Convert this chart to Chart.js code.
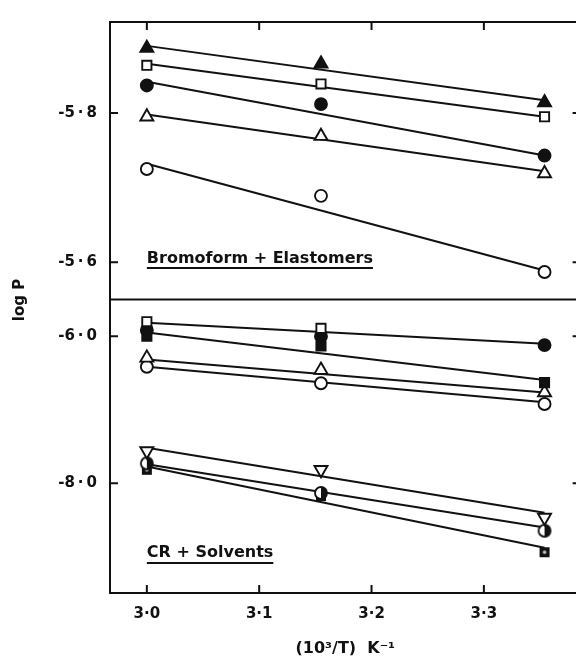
<!DOCTYPE html>
<html>
<head>
<meta charset="utf-8">
<script src="https://cdn.jsdelivr.net/npm/chart.js@4"></script>
<style>
  html, body { margin: 0; padding: 0; background: #fff; overflow: hidden; }
  canvas { display: block; }
</style>
</head>
<body>
<canvas id="permChart" width="590" height="663"></canvas>
<script>
// x positions of the three run temperatures, (10^3/T)
var tempX = [3.0, 3.155, 3.354]
var fitX = [3.0, 3.354]
var xTicks = [3.0, 3.1, 3.2, 3.3]
var topTicks = [-5.8, -5.6]
var bottomTicks = [-6.0, -8.0]

// Bromoform + Elastomers (upper panel)
var bromoFilledTri = [-5.887, -5.866, -5.814]
var bromoOpenSq = [-5.864, -5.839, -5.795]
var bromoFilledCirc = [-5.837, -5.812, -5.743]
var bromoOpenTri = [-5.795, -5.769, -5.719]
var bromoOpenCirc = [-5.725, -5.689, -5.587]
var bromoFits = [
    [-5.890, -5.817],
    [-5.866, -5.795],
    [-5.842, -5.743],
    [-5.798, -5.722],
    [-5.732, -5.589]
]

// CR + Solvents (lower panel)
var crOpenSq = [-5.803, -5.893, null]
var crFilledCirc = [-5.919, -6.0, -6.121]
var crFilledSq = [-6.0, -6.134, -6.631]
var crOpenTri = [-6.295, -6.461, -6.765]
var crOpenCirc = [-6.416, -6.640, -6.922]
var crInvTri = [-7.561, -7.816, -8.465]
var crHalfCirc = [-7.728, -8.131, -8.644]
var crDotSq = [-7.816, -8.174, -8.936]
var crFits = [
    [-5.816, -6.103],
    [-5.950, -6.595],
    [-6.318, -6.765],
    [-6.416, -6.899],
    [-7.517, -8.398],
    [-7.741, -8.600],
    [-7.772, -8.876]
]

var ink = '#111'
var fontFam = "'DejaVu Sans', sans-serif"

function dotLabel(v, sep){
    return v.toFixed(1).replace('.', sep)
}

// custom marker: circle with right half filled
function halfCircle(){
    var c = document.createElement('canvas')
    c.width = 16; c.height = 16
    var g = c.getContext('2d')
    g.fillStyle = '#fff'
    g.beginPath(); g.arc(8, 8, 6, 0, Math.PI * 2); g.fill()
    g.fillStyle = ink
    g.beginPath(); g.arc(8, 8, 6, -Math.PI / 2, Math.PI / 2); g.closePath(); g.fill()
    g.strokeStyle = ink; g.lineWidth = 1.8
    g.beginPath(); g.arc(8, 8, 6, 0, Math.PI * 2); g.stroke()
    return c
}

// custom marker: dark square with a light dot
function dotSquare(){
    var c = document.createElement('canvas')
    c.width = 12; c.height = 12
    var g = c.getContext('2d')
    g.fillStyle = ink
    g.fillRect(1, 1, 10, 10)
    g.fillStyle = '#ccc'
    g.beginPath(); g.arc(6, 6, 1.8, 0, Math.PI * 2); g.fill()
    return c
}

function markers(vals, axis, style, filled, radius, rotation){
    return {
        type: 'scatter',
        yAxisID: axis,
        data: tempX.map(function(x, i){ return {x: x, y: vals[i]} }).filter(function(p){ return p.y !== null }),
        pointStyle: style,
        pointRadius: radius,
        pointRotation: rotation || 0,
        pointBackgroundColor: filled ? ink : '#fff',
        pointBorderColor: ink,
        pointBorderWidth: 1.9,
        showLine: false,
        order: 0
    }
}

function fitLine(ends, axis){
    return {
        type: 'line',
        yAxisID: axis,
        data: fitX.map(function(x, i){ return {x: x, y: ends[i]} }),
        borderColor: ink,
        borderWidth: 2,
        pointRadius: 0,
        fill: false,
        order: 1
    }
}

var datasets = []
bromoFits.forEach(function(f){ datasets.push(fitLine(f, 'yTop')) })
crFits.forEach(function(f){ datasets.push(fitLine(f, 'yBot')) })
datasets.push(markers(bromoFilledTri, 'yTop', 'triangle', true, 7.5))
datasets.push(markers(bromoOpenSq, 'yTop', 'rect', false, 6.5))
datasets.push(markers(bromoFilledCirc, 'yTop', 'circle', true, 6))
datasets.push(markers(bromoOpenTri, 'yTop', 'triangle', false, 7.5))
datasets.push(markers(bromoOpenCirc, 'yTop', 'circle', false, 6))
datasets.push(markers(crOpenSq, 'yBot', 'rect', false, 6.5))
datasets.push(markers(crFilledSq, 'yBot', 'rect', true, 6.5))
datasets.push(markers(crFilledCirc, 'yBot', 'circle', true, 6))
datasets.push(markers(crOpenTri, 'yBot', 'triangle', false, 7.5))
datasets.push(markers(crOpenCirc, 'yBot', 'circle', false, 6))
datasets.push(markers(crInvTri, 'yBot', 'triangle', false, 7.5, 180))
datasets.push(markers(crHalfCirc, 'yBot', halfCircle(), false, 6))
datasets.push(markers(crDotSq, 'yBot', dotSquare(), true, 6))

// frame, inward ticks and panel captions
var framePlugin = {
    id: 'frame',
    afterDraw: function(chart){
        var ctx = chart.ctx
        var a = chart.chartArea
        var xs = chart.scales.x, yt = chart.scales.yTop, yb = chart.scales.yBot
        ctx.save()
        ctx.strokeStyle = ink
        ctx.lineWidth = 2
        ctx.strokeRect(a.left, a.top, a.right - a.left, a.bottom - a.top)
        ctx.beginPath()
        ctx.moveTo(a.left, yt.bottom); ctx.lineTo(a.right, yt.bottom)
        xTicks.forEach(function(v){
            var px = xs.getPixelForValue(v)
            ctx.moveTo(px, a.top); ctx.lineTo(px, a.top + 8)
            ctx.moveTo(px, a.bottom); ctx.lineTo(px, a.bottom - 8)
        })
        topTicks.forEach(function(v){
            var py = yt.getPixelForValue(v)
            ctx.moveTo(a.left, py); ctx.lineTo(a.left + 8, py)
            ctx.moveTo(a.right, py); ctx.lineTo(a.right - 8, py)
        })
        bottomTicks.forEach(function(v){
            var py = yb.getPixelForValue(v)
            ctx.moveTo(a.left, py); ctx.lineTo(a.left + 8, py)
            ctx.moveTo(a.right, py); ctx.lineTo(a.right - 8, py)
        })
        ctx.stroke()

        ctx.fillStyle = ink
        ctx.font = 'bold 16px ' + fontFam
        ctx.textBaseline = 'alphabetic'
        ctx.textAlign = 'left'
        var x0 = xs.getPixelForValue(3.0)
        var t1 = 'Bromoform + Elastomers'
        ctx.fillText(t1, x0, 263)
        var w1 = ctx.measureText(t1).width
        var t2 = 'CR + Solvents'
        ctx.fillText(t2, x0, 557)
        var w2 = ctx.measureText(t2).width
        ctx.lineWidth = 1.8
        ctx.beginPath()
        ctx.moveTo(x0, 268); ctx.lineTo(x0 + w1, 268)
        ctx.moveTo(x0, 563); ctx.lineTo(x0 + w2, 563)
        ctx.stroke()

        ctx.font = 'bold 15px ' + fontFam
        ctx.translate(20, 300)
        ctx.rotate(-Math.PI / 2)
        ctx.textAlign = 'center'
        ctx.textBaseline = 'middle'
        ctx.fillText('log P', 0, 0)
        ctx.restore()
    }
}

var tickFont = {family: fontFam, size: 15, weight: 'bold'}

var chart = new Chart(document.getElementById('permChart'), {
    data: {datasets: datasets},
    options: {
        responsive: false,
        animation: false,
        layout: {padding: {left: 0, right: 8, top: 15, bottom: 0}},
        plugins: {legend: {display: false}, tooltip: {enabled: false}},
        scales: {
            x: {
                type: 'linear',
                position: 'bottom',
                min: 2.9672,
                max: 3.3861,
                grid: {display: false, drawTicks: false},
                border: {display: false},
                afterBuildTicks: function(s){ s.ticks = xTicks.map(function(v){ return {value: v} }) },
                afterFit: function(s){ s.height = 70 },
                ticks: {color: ink, font: tickFont, padding: 12, callback: function(v){ return dotLabel(v, '\u00b7') }},
                title: {display: true, text: '(10\u00b3/T)  K\u207b\u00b9', color: ink, font: {family: fontFam, size: 16, weight: 'bold'}, padding: {top: 0, bottom: 5}}
            },
            yBot: {
                type: 'linear',
                position: 'left',
                stack: 'panels',
                stackWeight: 297,
                min: -9.490,
                max: -5.503,
                grid: {display: false, drawTicks: false},
                border: {display: false},
                afterBuildTicks: function(s){ s.ticks = bottomTicks.map(function(v){ return {value: v} }) },
                afterFit: function(s){ s.width = 110 },
                ticks: {color: ink, font: tickFont, padding: 13, callback: function(v){ return dotLabel(v, '\u2009\u00b7\u2009') }}
            },
            yTop: {
                type: 'linear',
                position: 'left',
                stack: 'panels',
                stackWeight: 281,
                reverse: true,
                min: -5.922,
                max: -5.550,
                grid: {display: false, drawTicks: false},
                border: {display: false},
                afterBuildTicks: function(s){ s.ticks = topTicks.map(function(v){ return {value: v} }) },
                afterFit: function(s){ s.width = 110 },
                ticks: {color: ink, font: tickFont, padding: 13, callback: function(v){ return dotLabel(v, '\u2009\u00b7\u2009') }}
            }
        }
    },
    plugins: [framePlugin]
})
</script>
</body>
</html>
